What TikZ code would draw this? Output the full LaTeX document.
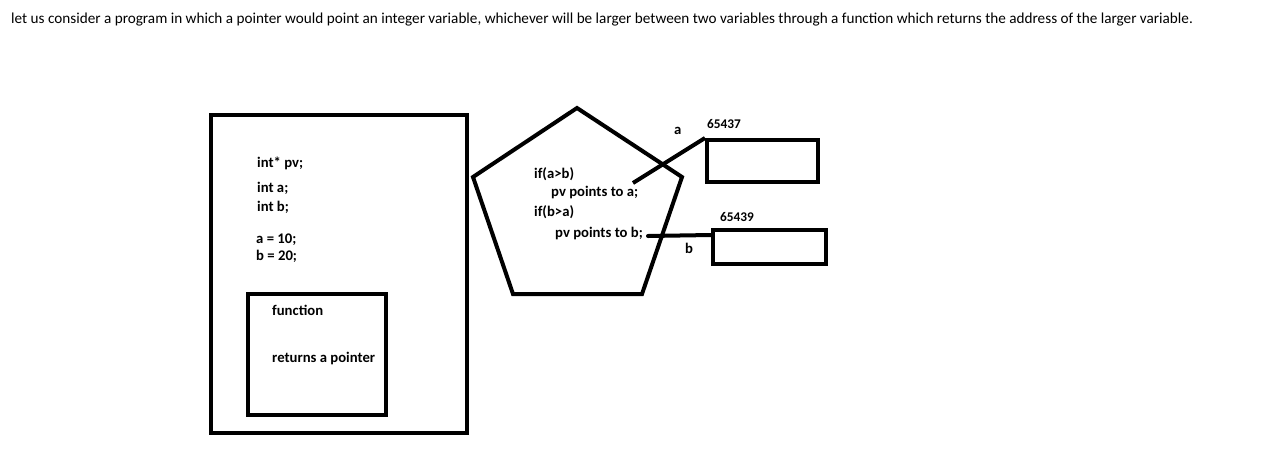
\documentclass[tikz,border=0pt]{standalone}
\usepackage{fontspec}
\setmainfont{Carlito}
\begin{document}
\begin{tikzpicture}[x=1pt,y=-1pt,
  thick box/.style={draw=black,line width=4pt,inner sep=0pt},
  lbl/.style={font=\fontsize{14.7}{17}\selectfont\bfseries,anchor=west,inner sep=0pt},
  addr/.style={font=\fontsize{13.3}{15}\selectfont\bfseries,anchor=west,inner sep=0pt},
  conn/.style={line width=4pt}]
\useasboundingbox (0,0) rectangle (1264,467);
\node[anchor=west,inner sep=0pt,font=\fontsize{15.2}{17}\selectfont] (title) at (11,20)
  {let us consider a program in which a pointer would point an integer variable, whichever will be larger between two variables through a function which returns the address of the larger variable.};
% main box
\node[thick box,minimum width=256pt,minimum height=318pt] (main) at (339,274) {};
\node[thick box,minimum width=138pt,minimum height=121pt] (func) at (317,354.5) {};
\node[lbl] (pv) at (257,163) {int* pv;};
\node[lbl] (ia) at (257,188) {int a;};
\node[lbl] (ib) at (257,207) {int b;};
\node[lbl] (a10) at (256,240) {a = 10;};
\node[lbl] (b20) at (256,256) {b = 20;};
\node[lbl] (fn) at (272,310) {function};
\node[lbl] (ret) at (272,358) {returns a pointer};
% pentagon
\draw[line width=4pt] (577,108) -- (682,177) -- (642,294) -- (513,294) -- (473,177) -- cycle;
\node[lbl] (c1) at (534,174) {if(a>b)};
\node[lbl] (c2) at (551,192) {pv points to a;};
\node[lbl] (c3) at (534,212) {if(b>a)};
\node[lbl] (c4) at (555,233) {pv points to b;};
% variable boxes
\node[thick box,minimum width=111pt,minimum height=42pt] (boxa) at (762.5,161) {};
\node[thick box,minimum width=113pt,minimum height=34pt] (boxb) at (769.5,247) {};
\node[addr] (adda) at (707,124) {65437};
\node[addr] (addb) at (720,217) {65439};
\node[lbl] (la) at (674,131) {a};
\node[lbl] (lb) at (685,248) {b};
\coordinate (pa) at (633,183);
\coordinate (pb) at (648,236);
\draw[conn] (pa) -- (boxa.north west);
\draw[conn,line cap=round] (pb) -- (boxb.west |- 0,235);
\end{tikzpicture}
\end{document}
